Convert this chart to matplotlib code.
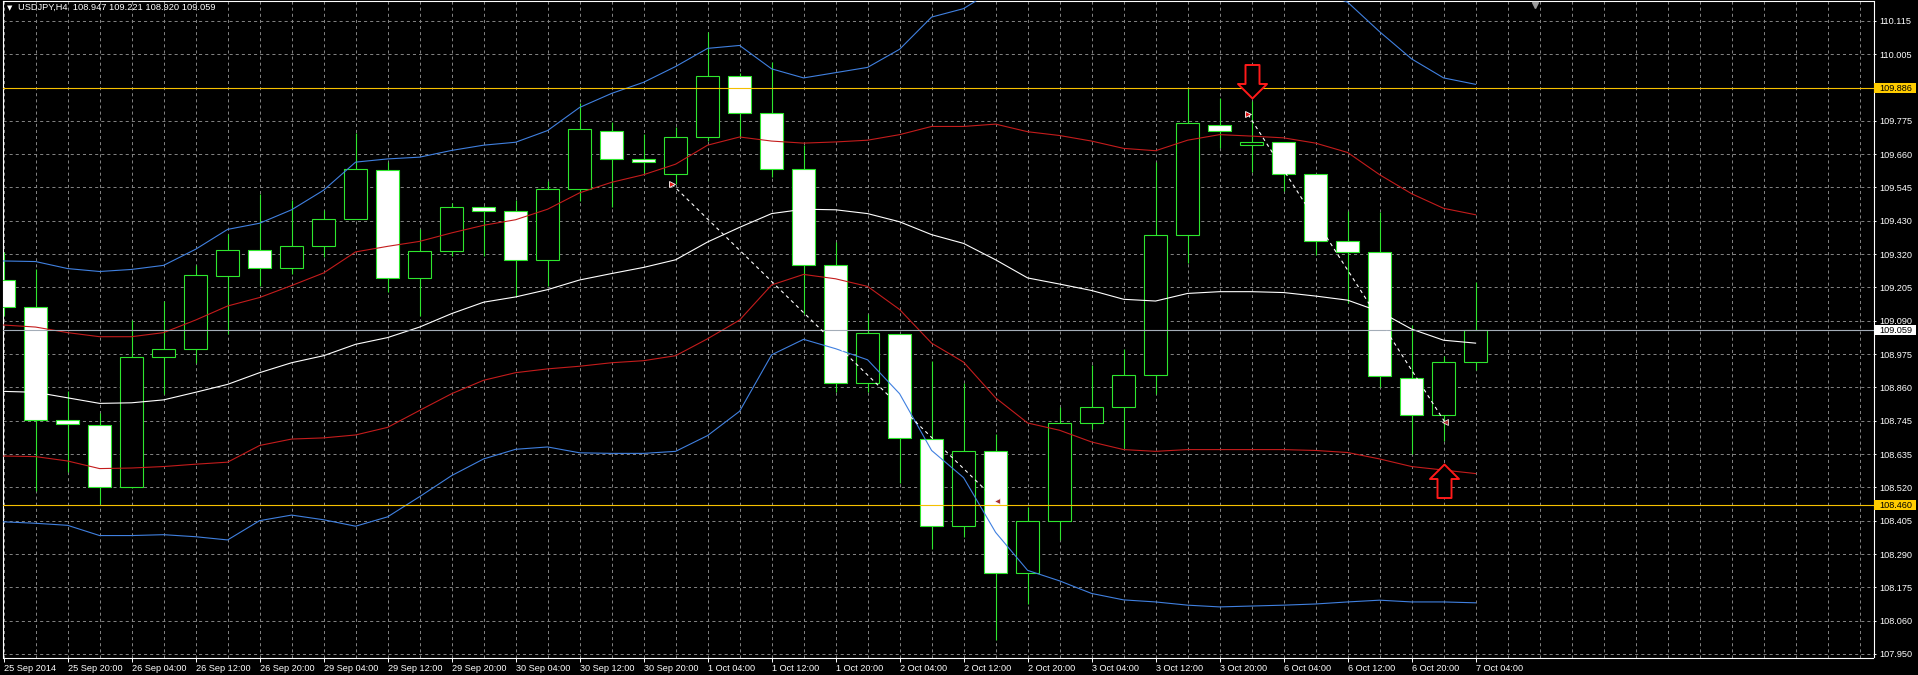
import numpy as np
import matplotlib
matplotlib.use("Agg")
import matplotlib.pyplot as plt
from matplotlib.path import Path
from matplotlib.patches import Rectangle

plt.rcParams['lines.scale_dashes'] = False
plt.rcParams['font.family'] = ['Liberation Sans', 'DejaVu Sans']

# ---------------- data (USDJPY H4, 25 Sep 12:00 .. 7 Oct 04:00) ----------------
time_labels = ["25 Sep 2014", "25 Sep 20:00", "26 Sep 04:00", "26 Sep 12:00", "26 Sep 20:00",
               "29 Sep 04:00", "29 Sep 12:00", "29 Sep 20:00", "30 Sep 04:00", "30 Sep 12:00",
               "30 Sep 20:00", "1 Oct 04:00", "1 Oct 12:00", "1 Oct 20:00", "2 Oct 04:00",
               "2 Oct 12:00", "2 Oct 20:00", "3 Oct 04:00", "3 Oct 12:00", "3 Oct 20:00",
               "6 Oct 04:00", "6 Oct 12:00", "6 Oct 20:00", "7 Oct 04:00"]

opens = [109.229, 109.135, 108.751, 108.733, 108.521, 108.967, 108.994, 109.243, 109.330, 109.269,
         109.344, 109.436, 109.606, 109.235, 109.327, 109.478, 109.464, 109.297, 109.541, 109.738,
         109.641, 109.593, 109.717, 109.927, 109.799, 109.608, 109.279, 108.876, 109.045, 108.686,
         108.387, 108.645, 108.226, 108.404, 108.740, 108.796, 108.904, 109.384, 109.759, 109.692,
         109.702, 109.590, 109.363, 109.325, 108.895, 108.768, 108.947]
highs = [109.323, 109.268, 108.848, 108.773, 109.092, 109.156, 109.279, 109.387, 109.524, 109.502,
         109.469, 109.731, 109.632, 109.405, 109.491, 109.481, 109.502, 109.567, 109.833, 109.769,
         109.728, 109.751, 110.078, 109.938, 109.973, 109.690, 109.359, 109.114, 109.045, 108.951,
         108.876, 108.704, 108.452, 108.793, 108.937, 108.992, 109.632, 109.887, 109.852, 109.841,
         109.702, 109.590, 109.464, 109.462, 109.074, 108.970, 109.221]
lows = [109.107, 108.509, 108.574, 108.463, 108.517, 108.840, 108.944, 109.045, 109.207, 109.251,
        109.308, 109.436, 109.189, 109.107, 109.311, 109.311, 109.174, 109.207, 109.498, 109.478,
        109.596, 109.556, 109.704, 109.718, 109.582, 109.114, 108.845, 108.845, 108.534, 108.308,
        108.351, 107.999, 108.121, 108.341, 108.718, 108.653, 108.840, 109.287, 109.682, 109.599,
        109.534, 109.315, 109.150, 108.862, 108.635, 108.678, 108.920]
closes = [109.135, 108.751, 108.735, 108.521, 108.967, 108.994, 109.245, 109.330, 109.269, 109.344,
          109.439, 109.610, 109.235, 109.327, 109.478, 109.464, 109.297, 109.541, 109.744, 109.642,
          109.631, 109.717, 109.927, 109.799, 109.608, 109.279, 108.876, 109.046, 108.688, 108.387,
          108.643, 108.226, 108.404, 108.740, 108.796, 108.905, 109.384, 109.766, 109.740, 109.702,
          109.590, 109.363, 109.323, 108.901, 108.766, 108.948, 109.059]

bb_mid = [108.848, 108.845, 108.826, 108.807, 108.809, 108.819, 108.845, 108.872, 108.912, 108.946,
          108.970, 109.009, 109.032, 109.068, 109.114, 109.153, 109.171, 109.196, 109.229, 109.251,
          109.272, 109.298, 109.359, 109.409, 109.456, 109.471, 109.469, 109.456, 109.428, 109.384,
          109.354, 109.298, 109.236, 109.215, 109.193, 109.163, 109.157, 109.183, 109.189, 109.189,
          109.186, 109.174, 109.160, 109.121, 109.061, 109.023, 109.013]
bb1_upper = [109.075, 109.068, 109.049, 109.035, 109.035, 109.049, 109.092, 109.140, 109.169, 109.210,
             109.253, 109.325, 109.344, 109.361, 109.390, 109.416, 109.435, 109.471, 109.527, 109.563,
             109.589, 109.625, 109.690, 109.718, 109.704, 109.697, 109.701, 109.707, 109.726, 109.754,
             109.754, 109.762, 109.736, 109.723, 109.704, 109.679, 109.671, 109.707, 109.726, 109.721,
             109.715, 109.697, 109.665, 109.589, 109.524, 109.474, 109.452]
bb1_lower = [108.627, 108.625, 108.610, 108.584, 108.586, 108.591, 108.599, 108.606, 108.663, 108.685,
             108.689, 108.699, 108.725, 108.783, 108.840, 108.886, 108.912, 108.925, 108.934, 108.946,
             108.953, 108.970, 109.028, 109.092, 109.212, 109.248, 109.233, 109.207, 109.128, 109.013,
             108.948, 108.826, 108.740, 108.715, 108.675, 108.649, 108.643, 108.649, 108.649, 108.649,
             108.649, 108.646, 108.639, 108.617, 108.591, 108.579, 108.567]
bb2_upper = [109.294, 109.292, 109.268, 109.258, 109.265, 109.279, 109.334, 109.402, 109.423, 109.469,
             109.536, 109.632, 109.643, 109.649, 109.672, 109.690, 109.700, 109.740, 109.819, 109.867,
             109.905, 109.959, 110.021, 110.031, 109.951, 109.920, 109.938, 109.956, 110.018, 110.128,
             110.157, 110.225, 110.235, 110.231, 110.222, 110.208, 110.215, 110.231, 110.262, 110.254,
             110.245, 110.219, 110.179, 110.078, 109.985, 109.920, 109.898]
bb2_lower = [108.402, 108.397, 108.390, 108.355, 108.355, 108.358, 108.351, 108.340, 108.406, 108.425,
             108.409, 108.387, 108.419, 108.488, 108.560, 108.617, 108.650, 108.658, 108.638, 108.636,
             108.636, 108.643, 108.697, 108.780, 108.973, 109.026, 108.994, 108.956, 108.840, 108.646,
             108.553, 108.366, 108.236, 108.200, 108.157, 108.135, 108.128, 108.117, 108.111, 108.114,
             108.117, 108.121, 108.128, 108.134, 108.128, 108.128, 108.125]

ytick_labels = ["107.950", "108.060", "108.175", "108.290", "108.405", "108.520", "108.635",
                "108.745", "108.860", "108.975", "109.090", "109.205", "109.320", "109.430",
                "109.545", "109.660", "109.775", "109.890", "110.005", "110.115"]

level_high = 109.886
level_low = 108.460
bid_price = 109.059

trade1_x = [20.88, 31.03]
trade1_y = [109.557, 108.474]
trade2_x = [38.89, 45.04]
trade2_y = [109.795, 108.743]

sell_arrow = (39, 109.850)
buy_arrow = (45, 108.600)
shift_marker_x = 47.85

# ---------------- figure / axes geometry ----------------
W, H, DPI = 1918, 675, 100
L, R, T, B = 2.5, 1873.5, 1.0, 657.5      # axes box in pixels
BAR_PX, BAR0_PX = 32.0, 3.6               # bar spacing and first bar center

fig = plt.figure(figsize=(W / DPI, H / DPI), dpi=DPI, facecolor='black')
ax = fig.add_axes([L / W, 1 - B / H, (R - L) / W, (B - T) / H], facecolor='black')

ymin, ymax = 107.938, 110.183
ax.set_xlim((L - BAR0_PX) / BAR_PX, (R - BAR0_PX) / BAR_PX)
ax.set_ylim(ymin, ymax)
price_per_px = (ymax - ymin) / (B - T)

GREEN = '#2ee62e'
RED = '#c41c1c'
BLUE = '#4080e0'
YELLOW = '#f5c000'
GRIDC = '#858585'

for s in ax.spines.values():
    s.set_color('white')
    s.set_linewidth(0.8)

ax.set_axisbelow(True)
n = len(opens)
x = np.arange(n)

# x ticks / grid
ax.set_xticks(np.arange(0, n, 2))
ax.set_xticklabels(time_labels)
ax.set_xticks(np.arange(0, 59), minor=True)
for lab in ax.get_xticklabels():
    lab.set_ha('left')
ax.tick_params(axis='x', which='major', colors='white', length=3, width=0.7,
               labelsize=6.6, pad=1.5, direction='out')
ax.tick_params(axis='x', which='minor', length=0)
ax.grid(True, which='both', axis='x', color=GRIDC, lw=0.7, ls=(0, (2.2, 2.2)))

# y ticks / grid
ax.yaxis.tick_right()
yt = np.linspace(107.950, 110.115, len(ytick_labels))
ax.set_yticks(yt)
ax.set_yticklabels(ytick_labels)
ax.tick_params(axis='y', colors='white', length=1.6, width=0.7, labelsize=6.6, pad=2.6)
ax.grid(True, which='major', axis='y', color=GRIDC, lw=0.7, ls=(0, (2.2, 2.2)))

# candles
o = np.array(opens); c = np.array(closes); h = np.array(highs); l = np.array(lows)
up = c >= o
ax.vlines(x, l, h, color=GREEN, lw=0.8, zorder=2)
bottom = np.minimum(o, c)
height = np.maximum(np.abs(c - o), 0.002)
ax.bar(x, height, bottom=bottom, width=0.73,
       color=np.where(up, 'black', 'white'), edgecolor=GREEN, linewidth=0.8, zorder=3)

# bands
ax.plot(x, bb2_upper, color=BLUE, lw=0.8, zorder=4)
ax.plot(x, bb2_lower, color=BLUE, lw=0.8, zorder=4)
ax.plot(x, bb1_upper, color=RED, lw=0.8, zorder=4)
ax.plot(x, bb1_lower, color=RED, lw=0.8, zorder=4)
ax.plot(x, bb_mid, color='white', lw=0.8, zorder=4)

# horizontal levels and bid
ax.axhline(level_high, color=YELLOW, lw=0.8, zorder=5)
ax.axhline(level_low, color=YELLOW, lw=0.8, zorder=5)
ax.axhline(bid_price, color='#a4adb8', lw=0.8, zorder=5)

# trade history lines
for tx, ty in ((trade1_x, trade1_y), (trade2_x, trade2_y)):
    ax.plot(tx, ty, color='white', lw=0.8, ls=(0, (2.5, 2.5)), zorder=6)
    ax.plot(tx[0], ty[0], marker='>', ms=5, mfc='#e01515', mec='white', mew=0.6, zorder=7)
    ax.plot(tx[1], ty[1], marker='<', ms=4.5, mfc='#a83030', mec='white', mew=0.5, zorder=7)

# big hollow arrows (tip at anchor)
dn_verts = [(0, 0), (14.5, 14.5), (7, 14.5), (7, 33.5), (-7, 33.5), (-7, 14.5), (-14.5, 14.5), (0, 0)]
dn_path = Path(dn_verts, [Path.MOVETO] + [Path.LINETO] * 6 + [Path.CLOSEPOLY])
up_path = Path([(vx, -vy) for vx, vy in dn_verts], [Path.MOVETO] + [Path.LINETO] * 6 + [Path.CLOSEPOLY])
ms_arrow = 33.5 * 2 * 72 / DPI
ax.plot(*sell_arrow, marker=dn_path, ms=ms_arrow, mfc='black', mec='#ff1a1a', mew=1.4, zorder=8)
ax.plot(*buy_arrow, marker=up_path, ms=ms_arrow, mfc='black', mec='#ff1a1a', mew=1.4, zorder=8)

# chart-shift marker at the top edge
ax.plot([shift_marker_x], [0.994], marker='v', ms=4.5, color='#9a9a9a',
        transform=ax.get_xaxis_transform(), clip_on=False, zorder=9)

# price labels on right axis
ytr = ax.get_yaxis_transform()
box_x0 = (1874.3 - L) / (R - L)
box_w = 42.0 / (R - L)
box_h = 10.0 * price_per_px
txt_x = (1879.3 - L) / (R - L)
for price, fc in ((level_high, '#ffcc00'), (level_low, '#ffcc00'), (bid_price, 'white')):
    ax.add_patch(Rectangle((box_x0, price - box_h / 2), box_w, box_h, transform=ytr,
                           facecolor=fc, edgecolor='none', clip_on=False, zorder=10))
    ax.text(txt_x, price, f"{price:.3f}", transform=ytr, color='black', fontsize=6.6,
            ha='left', va='center_baseline', clip_on=False, zorder=11)

# title
title = f"USDJPY,H4  {opens[-1]:.3f} {highs[-1]:.3f} {lows[-1]:.3f} {closes[-1]:.3f}"
fig.text(18.3 / W, 1 - 7.8 / H, title, color='white', fontsize=6.7, ha='left', va='center')
fig.text(6.5 / W, 1 - 7.8 / H, "\u25BC", color='white', fontsize=5, ha='left', va='center',
         family=['DejaVu Sans'])

fig.savefig('out.png', dpi=DPI, facecolor='black')
